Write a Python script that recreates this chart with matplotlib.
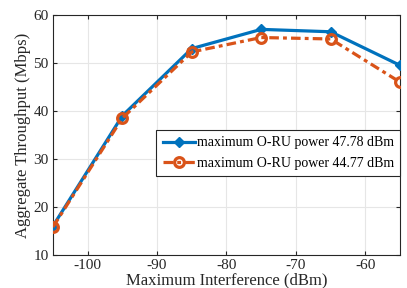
import matplotlib
matplotlib.use("Agg")
import matplotlib.pyplot as plt

interference = [-105, -95, -85, -75, -65, -55]
tput_4778 = [16.0, 39.0, 53.0, 57.0, 56.5, 49.5]
tput_4477 = [15.8, 38.5, 52.3, 55.3, 55.0, 46.0]
labels = ["maximum O-RU power 47.78 dBm", "maximum O-RU power 44.77 dBm"]

plt.rcParams["font.family"] = ["Liberation Serif", "DejaVu Serif"]
plt.rcParams["axes.unicode_minus"] = False

fig = plt.figure(figsize=(4.07, 2.88), dpi=100)
ax = fig.add_axes([0.130, 0.115, 0.853, 0.833])

ax.plot(interference, tput_4778, color="#0072BD", linewidth=2.3, marker="D",
        markersize=5, label=labels[0], zorder=3)
ax.plot(interference, tput_4477, color="#D95319", linewidth=2.3, marker="o",
        markersize=7, markerfacecolor="none", markeredgewidth=2.3,
        dashes=(3, 1.3, 1.2, 1.3), label=labels[1], zorder=4)

ax.set_xlim(-105, -55)
ax.set_ylim(10, 60)
ax.set_xticks([-100, -90, -80, -70, -60])
ax.set_yticks([10, 20, 30, 40, 50, 60])
ax.grid(True, color="#e6e6e6", linewidth=0.8)
ax.set_axisbelow(True)
ax.tick_params(direction="in", top=True, right=True, labelsize=11, colors="#262626",
               length=3, pad=3)
for s in ax.spines.values():
    s.set_color("#262626")
    s.set_linewidth(0.8)

ax.set_xlabel("Maximum Interference (dBm)", fontsize=12, labelpad=0.5, color="#262626")
ax.set_ylabel("Aggregate Throughput (Mbps)", fontsize=12, labelpad=2, color="#262626")

leg = ax.legend(loc="upper right", bbox_to_anchor=(1.0, 0.52), fontsize=10,
                fancybox=False, edgecolor="#262626", framealpha=1,
                handlelength=2.3, handletextpad=0.15, borderpad=0.45,
                labelspacing=0.55, borderaxespad=0)
leg.get_frame().set_linewidth(0.8)

fig.savefig("out.png", dpi=100)
